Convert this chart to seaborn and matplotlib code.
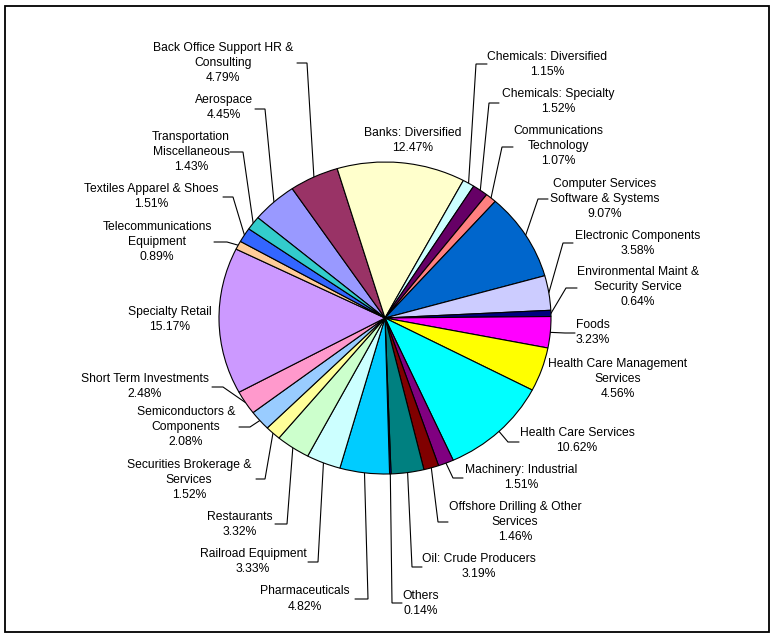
import numpy as np
import matplotlib
matplotlib.use("Agg")
import matplotlib.pyplot as plt
import matplotlib.patches as mpatches
import seaborn as sns

# ---------------- data ----------------
categories = [
    "Aerospace", "Back Office Support HR &\nConsulting", "Banks: Diversified",
    "Chemicals: Diversified", "Chemicals: Specialty", "Communications\nTechnology",
    "Computer Services\nSoftware & Systems", "Electronic Components",
    "Environmental Maint &\nSecurity Service", "Foods",
    "Health Care Management\nServices", "Health Care Services",
    "Machinery: Industrial", "Offshore Drilling & Other\nServices",
    "Oil: Crude Producers", "Others", "Pharmaceuticals", "Railroad Equipment",
    "Restaurants", "Securities Brokerage &\nServices", "Semiconductors &\nComponents",
    "Short Term Investments", "Specialty Retail", "Telecommunications\nEquipment",
    "Textiles Apparel & Shoes", "Transportation\nMiscellaneous",
]
shares = [4.45, 4.79, 12.47, 1.15, 1.52, 1.07, 9.07, 3.58, 0.64, 3.23, 4.56, 10.62,
          1.51, 1.46, 3.19, 0.14, 4.82, 3.33, 3.32, 1.52, 2.08, 2.48, 15.17, 0.89,
          1.51, 1.43]
colors = ["#9999FF", "#993366", "#FFFFCC", "#CCFFFF", "#660066", "#FF8080",
          "#0066CC", "#CCCCFF", "#000080", "#FF00FF", "#FFFF00", "#00FFFF",
          "#800080", "#800000", "#008080", "#0000FF", "#00CCFF", "#CCFFFF",
          "#CCFFCC", "#FFFF99", "#99CCFF", "#FF99CC", "#CC99FF", "#FFCC99",
          "#3366FF", "#33CCCC"]

# ---------------- layout (pixel positions of labels) ----------------
# (text centre x, block centre y, leader start x, leader elbow x, leader y) or None leader
label_layout = [
    (224, 108, (255, 265, 109)),
    (223, 63, (297, 307, 63)),
    (413, 140.5, None),
    (547, 64.5, (487, 476, 64)),
    (558, 101.5, (499, 489, 103)),
    (558, 146.5, (513, 502, 147)),
    (605, 198.7, (548, 538, 199)),
    (638, 243, (573, 563, 243)),
    (638, 287, (577, 566, 288)),
    (593, 332.5, (575, 565, 333)),
    (618, 379, None),
    (577, 440.5, (519, 508, 442)),
    (521, 477, (463, 453, 478)),
    (515, 522, (448, 438, 522)),
    (479, 566.5, (422, 412, 567)),
    (421, 603.5, (402, 392, 603)),
    (305, 599, (355, 368, 599)),
    (253, 561, (308, 318, 562)),
    (240, 524.5, (275, 287, 524)),
    (189, 480, (256, 265, 479)),
    (186, 427, (239, 250, 427)),
    (145, 386.5, (212, 223, 387)),
    (170, 319.5, None),
    (157, 241.5, (214, 227, 242)),
    (151, 196.5, (223, 233, 197)),
    (191, 152, (230, 243, 152)),
]

sns.set_theme(style="white")
plt.rcParams["font.family"] = ["Liberation Sans", "DejaVu Sans"]

W, H = 774, 638
fig = plt.figure(figsize=(W / 100, H / 100), dpi=100)
fig.patch.set_facecolor("white")

ov = fig.add_axes([0, 0, 1, 1])
ov.set_xlim(0, W)
ov.set_ylim(H, 0)
ov.axis("off")

axp = fig.add_axes([219 / W, 1 - 474 / H, 332 / W, 312 / H])
wedges, _ = axp.pie(shares, colors=colors, startangle=140, counterclock=False,
                    wedgeprops=dict(edgecolor="black", linewidth=0.8))
axp.set_aspect("auto")
axp.set_xlim(-1, 1)
axp.set_ylim(-1, 1)
axp.axis("off")
for w in wedges:
    w.set_clip_on(False)

# border
ov.add_patch(mpatches.Rectangle((5, 6), 764, 626, fill=False, edgecolor="black",
                                linewidth=1.3))

inv = ov.transData.inverted()
line_h = 15
for w, cat, val, lay in zip(wedges, categories, shares, label_layout):
    tx, ty, leader = lay
    lines = cat.split("\n") + [f"{val:.2f}%"]
    n = len(lines)
    for i, ln in enumerate(lines):
        y = ty + (i - (n - 1) / 2) * line_h
        ov.text(tx, y, ln, ha="center", va="center", fontsize=8.7, color="black")
    if leader is not None:
        x0, x1, ly = leader
        mid = np.deg2rad((w.theta1 + w.theta2) / 2)
        disp = axp.transData.transform((np.cos(mid), np.sin(mid)))
        px, py = inv.transform(disp)
        ov.plot([x0, x1, px], [ly, ly, py], color="black", linewidth=0.8,
                solid_joinstyle="miter")

fig.savefig("out.png", dpi=100, facecolor="white")
